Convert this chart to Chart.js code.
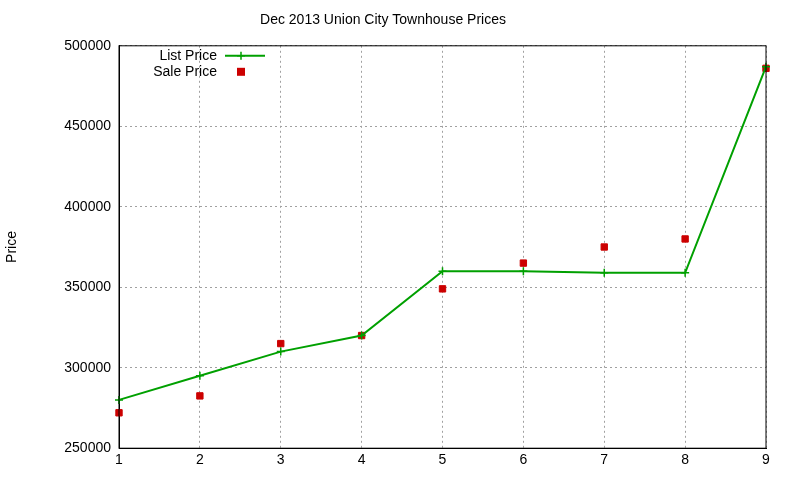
<!DOCTYPE html>
<html><head><script src="https://cdn.jsdelivr.net/npm/chart.js"></script>
<style>body{margin:0;background:#fff}#w{width:800px;height:480px}</style></head>
<body><div id="w"><canvas id="c"></canvas></div>
<script>
const xs=[1,2,3,4,5,6,7,8,9];
const listPrice=[280000,295000,310000,320000,360000,360000,359000,359000,487000];
const salePrice=[272000,282500,315000,320000,349000,365000,375000,380000,486000];
const title='Dec 2013 Union City Townhouse Prices';
const F='"Liberation Sans", Arial, sans-serif';
const legendPlugin={id:'lg',afterDraw(ch){const c=ch.ctx,a=ch.chartArea;c.save();c.font='14px '+F;c.fillStyle='#000';c.textAlign='right';c.textBaseline='middle';
const x=a.left+98,y1=a.top+10,y2=a.top+26;c.fillText('List Price',x,y1);c.fillText('Sale Price',x,y2);
c.strokeStyle='#00a000';c.lineWidth=2;c.beginPath();c.moveTo(x+8,y1);c.lineTo(x+48,y1);c.stroke();
c.lineWidth=1.5;c.beginPath();c.moveTo(x+24,y1-4);c.lineTo(x+24,y1+4);c.moveTo(x+20,y1);c.lineTo(x+28,y1);c.stroke();
c.fillStyle='#cc0000';c.fillRect(x+24-4,y2-4,8,8);
c.strokeStyle='#000';c.lineWidth=1;c.strokeRect(a.left,a.top,a.right-a.left,a.bottom-a.top);c.restore();}};
new Chart(document.getElementById('c'),{type:'scatter',
data:{datasets:[
{label:'List Price',data:xs.map((x,i)=>({x,y:listPrice[i]})),showLine:true,clip:false,borderColor:'#00a000',backgroundColor:'#00a000',borderWidth:2,pointStyle:'cross',pointRadius:4,pointBorderWidth:1.5,pointBorderColor:'#00a000'},
{label:'Sale Price',data:xs.map((x,i)=>({x,y:salePrice[i]})),showLine:false,clip:false,backgroundColor:'#cc0000',borderColor:'#cc0000',pointStyle:'rect',pointRadius:4.5}
]},
options:{responsive:true,maintainAspectRatio:false,animation:false,
layout:{padding:{top:0,right:34,bottom:7,left:0}},
plugins:{legend:{display:false},tooltip:{enabled:false},
title:{display:true,text:title,color:'#000',font:{family:F,size:14,weight:'normal'},padding:{top:12,bottom:17}}},
scales:{
x:{type:'linear',min:1,max:9,ticks:{stepSize:1,color:'#000',font:{family:F,size:14},padding:4},
grid:{color:'#a0a0a0',drawTicks:false},border:{display:true,dash:[2,3],color:'#000'}},
y:{min:250000,max:500000,ticks:{stepSize:50000,color:'#000',font:{family:F,size:14},padding:8,callback:v=>String(v)},
title:{display:true,text:'Price',color:'#000',font:{family:F,size:14},padding:{bottom:28}},
grid:{color:'#a0a0a0',drawTicks:false},border:{display:true,dash:[2,3],color:'#000'},
afterFit(s){s.width=119;}}
}},plugins:[legendPlugin]});
</script></body></html>
